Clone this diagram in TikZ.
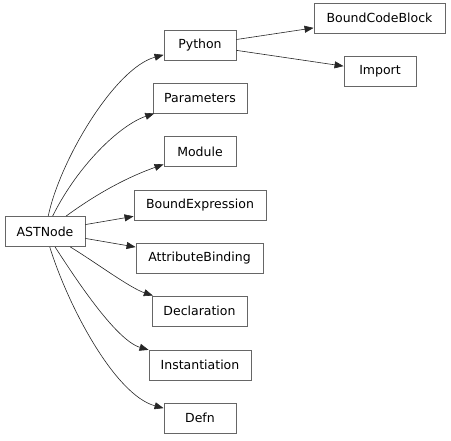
\documentclass[tikz,border=0pt]{standalone}
\usepackage{fontspec}
\setmainfont{DejaVu Sans}
\usetikzlibrary{arrows.meta}
\begin{document}
\begin{tikzpicture}[x=1pt,y=-1pt,
  box/.style={draw=black!60,line width=0.9pt,minimum height=30pt,inner sep=0pt,font=\fontsize{12.5}{14}\selectfont},
  edge/.style={draw=black!85,line width=0.6pt,-{Triangle[length=9pt,width=7pt]}}]
\useasboundingbox (0,0) rectangle (451,441);
\node[box,minimum width=72pt]  (python) at (200,45)    {Python};
\node[box,minimum width=131pt] (bcb)    at (379.5,18)  {BoundCodeBlock};
\node[box,minimum width=72pt]  (import) at (380,71.5)  {Import};
\node[box,minimum width=94pt]  (params) at (200,98)    {Parameters};
\node[box,minimum width=72pt]  (module) at (200,151.5) {Module};
\node[box,minimum width=132pt] (bexpr)  at (200,205)   {BoundExpression};
\node[box,minimum width=80pt]  (ast)    at (45,231.5)  {ASTNode};
\node[box,minimum width=127pt] (attr)   at (199.5,258) {AttributeBinding};
\node[box,minimum width=95pt]  (decl)   at (199.5,311) {Declaration};
\node[box,minimum width=102pt] (inst)   at (200,365)   {Instantiation};
\node[box,minimum width=72pt]  (defn)   at (200,418)   {Defn};
\draw[edge] (ast) .. controls (60,160) and (115,68) .. (python);
\draw[edge] (ast) .. controls (78,165) and (120,125) .. (params);
\draw[edge] (ast) .. controls (95,195) and (125,178) .. (module);
\draw[edge] (ast) -- (bexpr);
\draw[edge] (ast) -- (attr);
\draw[edge] (ast) .. controls (95,262) and (130,288) .. (decl);
\draw[edge] (ast) .. controls (72,273) and (115,340) .. (inst);
\draw[edge] (ast) .. controls (68,306) and (115,395) .. (defn);
\draw[edge] (python) -- (bcb);
\draw[edge] (python) -- (import);
\end{tikzpicture}
\end{document}
